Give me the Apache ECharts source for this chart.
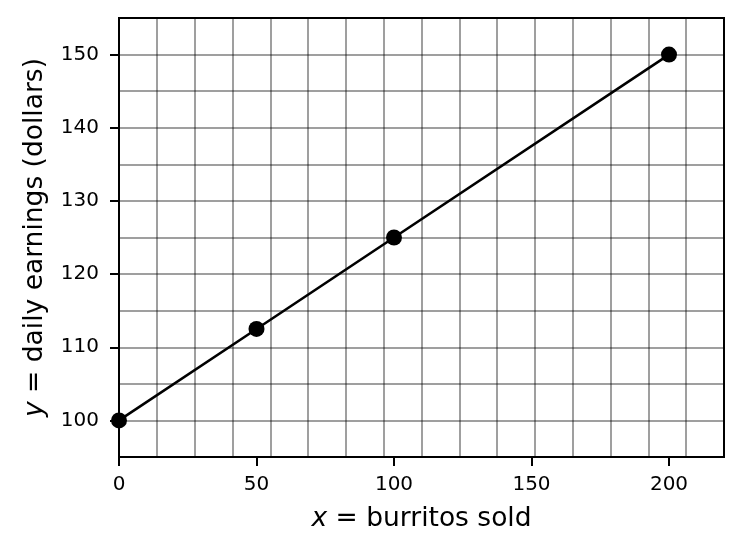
<!DOCTYPE html>
<html lang="en">
<head>
  <meta charset="UTF-8">
  <title>burritos</title>
  <style>
    html, body {
      height: 100%;
      width: 100%;
      margin: 0;
      padding: 0;
      background: #fff;
    }
  </style>
  <script src="https://cdn.jsdelivr.net/npm/echarts@6/dist/echarts.min.js"></script>
</head>
<body>
<div id="main" style="width: 743px; height: 552px;"></div>

<script>
  // data
  var burritos = [0, 50, 100, 200];
  var earnings = [100, 112.5, 125, 150];
  var xTicks = [0, 50, 100, 150, 200];
  var yTicks = [100, 110, 120, 130, 140, 150];

  var chart = echarts.init(document.getElementById('main'));
  var font = 'DejaVu Sans';
  var gridColor = 'rgba(0,0,0,0.5)';

  function nameStyle() {
    return {
      fontFamily: font,
      fontSize: 26.5,
      color: '#000',
      rich: {
        i: { fontFamily: font, fontSize: 26.5, fontStyle: 'italic', color: '#000' }
      }
    };
  }

  var option = {
    animation: false,
    grid: {
      left: 119,
      top: 18,
      right: 19,
      bottom: 95,
      show: true,
      borderColor: '#000',
      borderWidth: 2
    },
    xAxis: [
      {
        type: 'value',
        min: 0,
        max: 220,
        name: '{i|x} = burritos sold',
        nameLocation: 'middle',
        nameGap: 49,
        nameTextStyle: nameStyle(),
        axisLine: { show: true, lineStyle: { color: '#000', width: 2 } },
        axisTick: { show: true, customValues: xTicks, length: 9, lineStyle: { color: '#000', width: 2 } },
        axisLabel: { customValues: xTicks, fontFamily: font, fontSize: 20, color: '#000', margin: 18 },
        splitLine: { show: false }
      },
      {
        // fine grid: 16 columns across the axis
        type: 'value',
        min: 0,
        max: 220,
        interval: 13.75,
        position: 'bottom',
        axisLine: { show: false },
        axisTick: { show: false },
        axisLabel: { show: false },
        splitLine: { show: true, lineStyle: { color: gridColor, width: 1.5 } }
      }
    ],
    yAxis: [
      {
        type: 'value',
        min: 95,
        max: 155,
        name: '{i|y} = daily earnings (dollars)',
        nameLocation: 'middle',
        nameGap: 70,
        nameRotate: 90,
        nameTextStyle: nameStyle(),
        axisLine: { show: true, lineStyle: { color: '#000', width: 2 } },
        axisTick: { show: true, customValues: yTicks, length: 9, lineStyle: { color: '#000', width: 2 } },
        axisLabel: { customValues: yTicks, fontFamily: font, fontSize: 20, color: '#000', margin: 20 },
        splitLine: { show: false }
      },
      {
        type: 'value',
        min: 95,
        max: 155,
        interval: 5,
        position: 'left',
        axisLine: { show: false },
        axisTick: { show: false },
        axisLabel: { show: false },
        splitLine: { show: true, lineStyle: { color: gridColor, width: 1.5 } }
      }
    ],
    series: [
      {
        type: 'line',
        xAxisIndex: 0,
        yAxisIndex: 0,
        data: burritos.map(function (x, i) { return [x, earnings[i]]; }),
        symbol: 'circle',
        symbolSize: 16,
        clip: false,
        itemStyle: { color: '#000' },
        lineStyle: { color: '#000', width: 2.6 }
      }
    ]
  };
  chart.setOption(option);
</script>
</body>
</html>
